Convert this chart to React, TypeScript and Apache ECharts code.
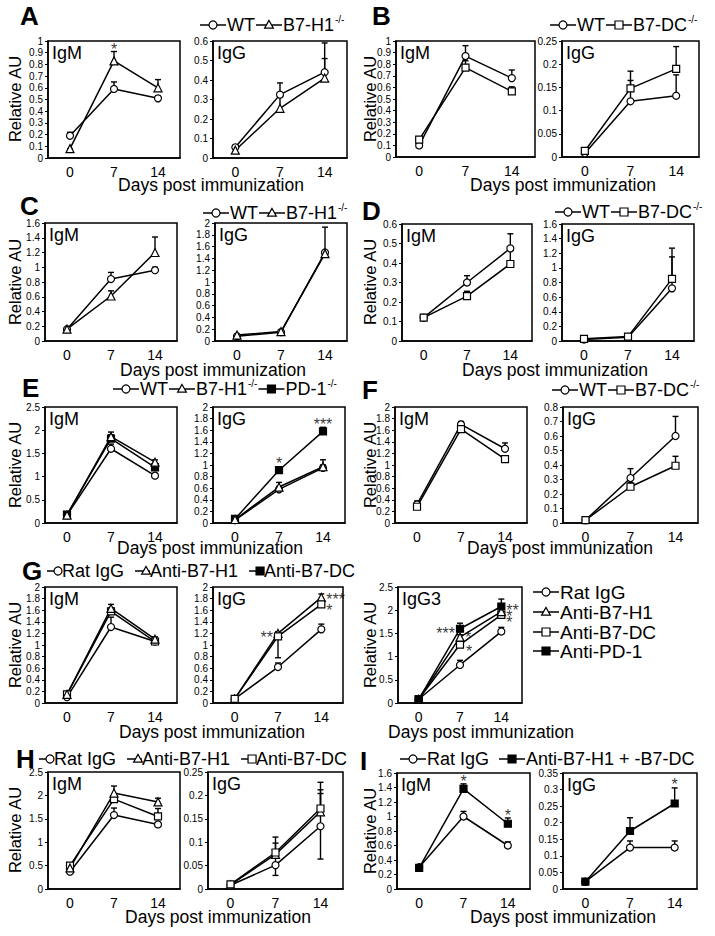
import React, { useEffect, useRef } from 'react';
import * as echarts from 'echarts';

const FONT = '"Liberation Sans", Arial, Helvetica, sans-serif';
const days = ['0', '7', '14'];

// star annotation: [day index, value at block centre, text, x offset, align, line height]
type Star = [number, number, string, number, string?, number?];

// ---- A ----
const aIgmWT = [0.19, 0.59, 0.51];
const aIgmWTErr = [0.03, 0.06, 0.02];
const aIgmKO = [0.08, 0.83, 0.6];
const aIgmKOErr = [0, 0.08, 0.07];
const aIggWT = [0.055, 0.325, 0.44];
const aIggWTErr = [0.01, 0.06, 0.15];
const aIggKO = [0.04, 0.255, 0.41];
const aIggKOErr = [0.01, 0.06, 0.1];
const aIgmStars: Star[] = [[1, 0.97, '*', 0]];
// ---- B ----
const bIgmWT = [0.1, 0.87, 0.68];
const bIgmWTErr = [0.01, 0.09, 0.07];
const bIgmKO = [0.15, 0.77, 0.565];
const bIgmKOErr = [0.01, 0.06, 0.04];
const bIggWT = [0.008, 0.12, 0.132];
const bIggWTErr = [0.003, 0.045, 0.045];
const bIggKO = [0.013, 0.148, 0.19];
const bIggKOErr = [0.003, 0.037, 0.048];
// ---- C ----
const cIgmWT = [0.16, 0.84, 0.96];
const cIgmWTErr = [0.01, 0.09, 0.04];
const cIgmKO = [0.16, 0.61, 1.2];
const cIgmKOErr = [0.01, 0.07, 0.21];
const cIggWT = [0.08, 0.15, 1.5];
const cIggWTErr = [0.01, 0.02, 0.02];
const cIggKO = [0.1, 0.16, 1.48];
const cIggKOErr = [0.01, 0.02, 0.45];
// ---- D ----
const dIgmWT = [0.12, 0.3, 0.475];
const dIgmWTErr = [0.01, 0.035, 0.075];
const dIgmKO = [0.12, 0.23, 0.395];
const dIgmKOErr = [0.01, 0.025, 0.08];
const dIggWT = [0.02, 0.05, 0.72];
const dIggWTErr = [0.01, 0.01, 0.43];
const dIggKO = [0.03, 0.06, 0.85];
const dIggKOErr = [0.01, 0.01, 0.42];
// ---- E ----
const eIgmWT = [0.17, 1.6, 1.02];
const eIgmWTErr = [0.02, 0.1, 0.03];
const eIgmH1 = [0.17, 1.86, 1.31];
const eIgmH1Err = [0.02, 0.1, 0.05];
const eIgmPD1 = [0.18, 1.82, 1.2];
const eIgmPD1Err = [0.02, 0.08, 0.05];
const eIggWT = [0.05, 0.58, 0.95];
const eIggWTErr = [0.01, 0.05, 0.05];
const eIggH1 = [0.06, 0.62, 0.97];
const eIggH1Err = [0.01, 0.08, 0.12];
const eIggPD1 = [0.07, 0.91, 1.58];
const eIggPD1Err = [0.01, 0.06, 0.07];
const eIggStars: Star[] = [[1, 1.1, '*', 0], [2, 1.78, '***', 0]];
// ---- F ----
const fIgmWT = [0.32, 1.7, 1.28];
const fIgmWTErr = [0.06, 0.05, 0.1];
const fIgmKO = [0.28, 1.62, 1.1];
const fIgmKOErr = [0.04, 0.06, 0.05];
const fIggWT = [0.02, 0.31, 0.6];
const fIggWTErr = [0.01, 0.065, 0.135];
const fIggKO = [0.02, 0.25, 0.395];
const fIggKOErr = [0.01, 0.03, 0.065];
// ---- G ----
const gIgmRat = [0.1, 1.31, 1.06];
const gIgmRatErr = [0.02, 0.17, 0.03];
const gIgmH1 = [0.15, 1.63, 1.1];
const gIgmH1Err = [0.02, 0.07, 0.04];
const gIgmDC = [0.15, 1.58, 1.06];
const gIgmDCErr = [0.02, 0.06, 0.03];
const gIggRat = [0.07, 0.62, 1.27];
const gIggRatErr = [0.01, 0.07, 0.09];
const gIggH1 = [0.07, 1.2, 1.82];
const gIggH1Err = [0.01, 0.03, 0.06];
const gIggDC = [0.07, 1.15, 1.7];
const gIggDCErr = [0.01, 0.05, 0.04];
const gIggDCErrLo = [0, 0.37, 0];
const gIggStars: Star[] = [[1, 1.2, '**', -5, 'right'], [2, 1.76, '***\n*', 5, 'left', 11]];
const gIgg3Rat = [0.08, 0.82, 1.54];
const gIgg3RatErr = [0.01, 0.1, 0.09];
const gIgg3H1 = [0.08, 1.42, 1.97];
const gIgg3H1Err = [0.01, 0.05, 0.05];
const gIgg3DC = [0.08, 1.26, 1.9];
const gIgg3DCErr = [0.01, 0.05, 0.05];
const gIgg3PD1 = [0.08, 1.6, 2.08];
const gIgg3PD1Err = [0.01, 0.12, 0.16];
const gIgg3Stars: Star[] = [
  [1, 1.6, '***', -5, 'right'], [1, 1.5, '*', 5, 'left'], [1, 1.2, '*', 6, 'left'],
  [2, 1.97, '**\n*\n*', 5, 'left', 6],
];
// ---- H ----
const hIgmRat = [0.37, 1.58, 1.38];
const hIgmRatErr = [0.02, 0.15, 0.02];
const hIgmH1 = [0.45, 2.05, 1.86];
const hIgmH1Err = [0.02, 0.15, 0.08];
const hIgmDC = [0.5, 1.92, 1.55];
const hIgmDCErr = [0.02, 0.05, 0.17];
const hIggRat = [0.008, 0.051, 0.134];
const hIggRatErr = [0.002, 0.022, 0.07];
const hIggRatErrLo = [0, 0.022, 0.07];
const hIggH1 = [0.009, 0.074, 0.165];
const hIggH1Err = [0.002, 0.037, 0.063];
const hIggDC = [0.01, 0.078, 0.172];
const hIggDCErr = [0.002, 0.02, 0.04];
// ---- I ----
const iIgmRat = [0.3, 1.0, 0.6];
const iIgmRatErr = [0.01, 0.07, 0.05];
const iIgmCombo = [0.29, 1.38, 0.9];
const iIgmComboErr = [0.01, 0.07, 0.08];
const iIggRat = [0.022, 0.125, 0.125];
const iIggRatErr = [0.003, 0.02, 0.02];
const iIggCombo = [0.022, 0.175, 0.258];
const iIggComboErr = [0.003, 0.04, 0.047];
const iIgmStars: Star[] = [[1, 1.55, '*', 0], [2, 1.08, '*', 0]];
const iIggStars: Star[] = [[2, 0.33, '*', 0]];

type Sym = 'o' | 'tri' | 'sq' | 'fsq';
interface S { v: number[]; e: number[]; lo?: number[]; sym: Sym }
interface P {
  box: [number, number, number, number];
  max: number;
  step: number;
  tag: string;
  series: S[];
  stars?: Star[];
}

const panels: P[] = [
  { box: [48, 41, 132, 117], max: 1, step: 0.1, tag: 'IgM', stars: aIgmStars, series: [
    { v: aIgmWT, e: aIgmWTErr, sym: 'o' }, { v: aIgmKO, e: aIgmKOErr, sym: 'tri' }] },
  { box: [213, 41, 134, 117], max: 0.6, step: 0.1, tag: 'IgG', series: [
    { v: aIggWT, e: aIggWTErr, sym: 'o' }, { v: aIggKO, e: aIggKOErr, sym: 'tri' }] },
  { box: [396, 41, 139, 116], max: 1, step: 0.1, tag: 'IgM', series: [
    { v: bIgmWT, e: bIgmWTErr, sym: 'o' }, { v: bIgmKO, e: bIgmKOErr, sym: 'sq' }] },
  { box: [562, 41, 137, 116], max: 0.25, step: 0.05, tag: 'IgG', series: [
    { v: bIggWT, e: bIggWTErr, sym: 'o' }, { v: bIggKO, e: bIggKOErr, sym: 'sq' }] },
  { box: [45, 223, 132, 118], max: 1.6, step: 0.2, tag: 'IgM', series: [
    { v: cIgmWT, e: cIgmWTErr, sym: 'o' }, { v: cIgmKO, e: cIgmKOErr, sym: 'tri' }] },
  { box: [215, 223, 132, 118], max: 2, step: 0.2, tag: 'IgG', series: [
    { v: cIggWT, e: cIggWTErr, sym: 'o' }, { v: cIggKO, e: cIggKOErr, sym: 'tri' }] },
  { box: [402, 224, 130, 117], max: 0.6, step: 0.1, tag: 'IgM', series: [
    { v: dIgmWT, e: dIgmWTErr, sym: 'o' }, { v: dIgmKO, e: dIgmKOErr, sym: 'sq' }] },
  { box: [562, 224, 132, 117], max: 1.6, step: 0.2, tag: 'IgG', series: [
    { v: dIggWT, e: dIggWTErr, sym: 'o' }, { v: dIggKO, e: dIggKOErr, sym: 'sq' }] },
  { box: [45, 407, 132, 116], max: 2.5, step: 0.5, tag: 'IgM', series: [
    { v: eIgmWT, e: eIgmWTErr, sym: 'o' }, { v: eIgmPD1, e: eIgmPD1Err, sym: 'fsq' }, { v: eIgmH1, e: eIgmH1Err, sym: 'tri' }] },
  { box: [213, 407, 132, 116], max: 2, step: 0.2, tag: 'IgG', stars: eIggStars, series: [
    { v: eIggWT, e: eIggWTErr, sym: 'o' }, { v: eIggPD1, e: eIggPD1Err, sym: 'fsq' }, { v: eIggH1, e: eIggH1Err, sym: 'tri' }] },
  { box: [395, 407, 132, 116], max: 2, step: 0.2, tag: 'IgM', series: [
    { v: fIgmWT, e: fIgmWTErr, sym: 'o' }, { v: fIgmKO, e: fIgmKOErr, sym: 'sq' }] },
  { box: [563, 407, 135, 116], max: 0.8, step: 0.1, tag: 'IgG', series: [
    { v: fIggWT, e: fIggWTErr, sym: 'o' }, { v: fIggKO, e: fIggKOErr, sym: 'sq' }] },
  { box: [45, 587, 132, 116], max: 2, step: 0.2, tag: 'IgM', series: [
    { v: gIgmRat, e: gIgmRatErr, sym: 'o' }, { v: gIgmDC, e: gIgmDCErr, sym: 'sq' }, { v: gIgmH1, e: gIgmH1Err, sym: 'tri' }] },
  { box: [213, 587, 130, 116], max: 2, step: 0.2, tag: 'IgG', stars: gIggStars, series: [
    { v: gIggRat, e: gIggRatErr, sym: 'o' }, { v: gIggH1, e: gIggH1Err, sym: 'tri' }, { v: gIggDC, e: gIggDCErr, lo: gIggDCErrLo, sym: 'sq' }] },
  { box: [398, 587, 124, 116], max: 2.5, step: 0.5, tag: 'IgG3', stars: gIgg3Stars, series: [
    { v: gIgg3Rat, e: gIgg3RatErr, sym: 'o' }, { v: gIgg3DC, e: gIgg3DCErr, sym: 'sq' }, { v: gIgg3H1, e: gIgg3H1Err, sym: 'tri' }, { v: gIgg3PD1, e: gIgg3PD1Err, sym: 'fsq' }] },
  { box: [48, 772, 132, 117], max: 2.5, step: 0.5, tag: 'IgM', series: [
    { v: hIgmRat, e: hIgmRatErr, sym: 'o' }, { v: hIgmDC, e: hIgmDCErr, sym: 'sq' }, { v: hIgmH1, e: hIgmH1Err, sym: 'tri' }] },
  { box: [208, 772, 135, 117], max: 0.25, step: 0.05, tag: 'IgG', series: [
    { v: hIggRat, e: hIggRatErr, lo: hIggRatErrLo, sym: 'o' }, { v: hIggH1, e: hIggH1Err, sym: 'tri' }, { v: hIggDC, e: hIggDCErr, sym: 'sq' }] },
  { box: [397, 773, 133, 116], max: 1.6, step: 0.2, tag: 'IgM', stars: iIgmStars, series: [
    { v: iIgmRat, e: iIgmRatErr, sym: 'o' }, { v: iIgmCombo, e: iIgmComboErr, sym: 'fsq' }] },
  { box: [563, 773, 134, 116], max: 0.35, step: 0.05, tag: 'IgG', stars: iIggStars, series: [
    { v: iIggRat, e: iIggRatErr, sym: 'o' }, { v: iIggCombo, e: iIggComboErr, sym: 'fsq' }] },
];

const symMap: Record<Sym, string> = { o: 'circle', tri: 'triangle', sq: 'rect', fsq: 'rect' };

let ctx: CanvasRenderingContext2D | null = null;
function measure(text: string, size: number, weight = 'normal') {
  if (!ctx) ctx = document.createElement('canvas').getContext('2d');
  if (!ctx) return text.length * size * 0.55;
  ctx.font = `${weight} ${size}px "Liberation Sans"`;
  return ctx.measureText(text).width;
}

function txt(text: string, x: number, y: number, size: number, extra: any = {}) {
  return {
    type: 'text', x, y, silent: true, z: 50,
    rotation: extra.rotation || 0,
    style: {
      text, fontSize: size, fontFamily: FONT, fill: '#000',
      fontWeight: extra.weight || 'normal',
      align: extra.align || 'left', verticalAlign: extra.va || 'middle',
    },
  };
}

function marker(sym: Sym, cx: number, cy: number, r: number) {
  const style = { fill: sym === 'fsq' ? '#000' : '#fff', stroke: '#000', lineWidth: 1.2 };
  if (sym === 'o') return { type: 'circle', z: 52, shape: { cx, cy, r }, style };
  if (sym === 'tri') return { type: 'polygon', z: 52, shape: { points: [[cx, cy - r * 1.15], [cx - r * 1.1, cy + r * 0.8], [cx + r * 1.1, cy + r * 0.8]] }, style };
  return { type: 'rect', z: 52, shape: { x: cx - r, y: cy - r, width: 2 * r, height: 2 * r }, style };
}

interface LItem { sym: Sym; text: string; sup?: string }
function legendRow(x: number, y: number, items: LItem[], o: { font: number; lineL: number; lineR: number; r: number; gapText: number; gapItem: number }) {
  const els: any[] = [];
  let cx = x;
  for (const it of items) {
    const mx = cx + o.lineL + o.r;
    const end = mx + o.r + o.lineR;
    els.push({ type: 'line', z: 51, shape: { x1: cx, y1: y, x2: end, y2: y }, style: { stroke: '#000', lineWidth: 1.5 } });
    els.push(marker(it.sym, mx, y, o.r));
    let tx = end + o.gapText;
    els.push(txt(it.text, tx, y, o.font));
    tx += measure(it.text, o.font);
    if (it.sup) {
      const sf = Math.round(o.font * 0.58);
      els.push(txt(it.sup, tx + 1, y - o.font * 0.32, sf));
      tx += measure(it.sup, sf) + 1;
    }
    cx = tx + o.gapItem;
  }
  return els;
}

function buildOption() {
  const grid: any[] = [];
  const xAxis: any[] = [];
  const yAxis: any[] = [];
  const series: any[] = [];
  const elements: any[] = [];

  panels.forEach((p, i) => {
    const [l, t, w, h] = p.box;
    grid.push({ left: l, top: t, width: w, height: h, show: true, borderColor: '#000', borderWidth: 1.5, backgroundColor: 'transparent' });
    xAxis.push({
      type: 'category', gridIndex: i, data: days, boundaryGap: true,
      axisLine: { show: true, lineStyle: { color: '#000', width: 1.5 } },
      axisTick: { show: false },
      axisLabel: { fontSize: 14, color: '#000', margin: 7, fontFamily: FONT },
      splitLine: { show: false },
    });
    yAxis.push({
      type: 'value', gridIndex: i, min: 0, max: p.max, interval: p.step,
      axisLine: { show: true, lineStyle: { color: '#000', width: 1.5 } },
      axisTick: { show: true, length: 3, lineStyle: { color: '#000', width: 1 } },
      axisLabel: { fontSize: 10, lineHeight: 10, color: '#000', margin: 5, fontFamily: FONT },
      splitLine: { show: false },
    });
    p.series.forEach((s) => {
      series.push({
        type: 'custom', xAxisIndex: i, yAxisIndex: i, z: 2, silent: true,
        data: s.v.map((v, k) => [k, v, v + s.e[k], s.lo ? v - s.lo[k] : v]),
        encode: { x: 0, y: [1, 2, 3] },
        renderItem: (params: any, api: any) => {
          const top = api.coord([api.value(0), api.value(2)]);
          const bot = api.coord([api.value(0), api.value(3)]);
          const cap = 3;
          const st = { stroke: '#000', lineWidth: 1.4 };
          const ch: any[] = [
            { type: 'line', shape: { x1: top[0], y1: top[1], x2: bot[0], y2: bot[1] }, style: st },
            { type: 'line', shape: { x1: top[0] - cap, y1: top[1], x2: top[0] + cap, y2: top[1] }, style: st },
          ];
          if (api.value(3) < api.value(1)) {
            ch.push({ type: 'line', shape: { x1: bot[0] - cap, y1: bot[1], x2: bot[0] + cap, y2: bot[1] }, style: st });
          }
          return { type: 'group', children: ch };
        },
      });
    });
    p.series.forEach((s) => {
      series.push({
        type: 'line', xAxisIndex: i, yAxisIndex: i, z: 3, silent: true,
        data: s.v,
        symbol: symMap[s.sym],
        symbolSize: s.sym === 'tri' ? 8 : 7,
        showAllSymbol: true,
        itemStyle: { color: s.sym === 'fsq' ? '#000' : '#fff', borderColor: '#000', borderWidth: 1.2 },
        lineStyle: { color: '#000', width: 1.5 },
      });
    });
    if (p.stars) {
      series.push({
        type: 'scatter', xAxisIndex: i, yAxisIndex: i, z: 4, silent: true,
        symbolSize: 1, itemStyle: { color: 'rgba(0,0,0,0)' },
        data: p.stars.map(([k, y, s, dx, align, lh]) => ({
          value: [k, y],
          label: {
            show: true, formatter: s, position: 'inside', offset: [dx, 4.5],
            align: align || 'center', verticalAlign: 'middle',
            fontSize: 16, lineHeight: lh || 12, color: '#000', fontFamily: FONT,
          },
        })),
      });
    }
    elements.push(txt(p.tag, l + 4, t + 3, 18, { va: 'top' }));
  });

  // panel letters
  const letters: [string, number, number][] = [
    ['A', 20, 3], ['B', 372, 3], ['C', 20, 193], ['D', 362, 198], ['E', 22, 375],
    ['F', 362, 377], ['G', 22, 558], ['H', 16, 746], ['I', 360, 748],
  ];
  letters.forEach(([s, x, y]) => elements.push(txt(s, x, y, 26, { weight: 'bold', va: 'top' })));

  // x titles
  const titles: [number, number][] = [[211, 185], [563, 185], [213, 370], [555, 370], [210, 548], [560, 548], [212, 732], [481, 732], [218, 917], [563, 917]];
  titles.forEach(([x, y]) => elements.push(txt('Days post immunization', x, y, 17.5, { align: 'center' })));

  // y titles
  const ytitles: [number, number][] = [[15, 99], [370, 99], [15, 282], [370, 282], [15, 465], [370, 465], [15, 645], [370, 645], [15, 830], [370, 831]];
  ytitles.forEach(([x, y]) => elements.push(txt('Relative AU', x, y, 16.5, { align: 'center', rotation: Math.PI / 2 })));

  // legends
  const std = { font: 18, lineL: 9, lineR: 9, r: 4, gapText: 1, gapItem: 1 };
  elements.push(...legendRow(200, 25, [{ sym: 'o', text: 'WT' }, { sym: 'tri', text: 'B7-H1', sup: '-/-' }], std));
  elements.push(...legendRow(550, 25, [{ sym: 'o', text: 'WT' }, { sym: 'sq', text: 'B7-DC', sup: '-/-' }], std));
  elements.push(...legendRow(203, 213, [{ sym: 'o', text: 'WT' }, { sym: 'tri', text: 'B7-H1', sup: '-/-' }], std));
  elements.push(...legendRow(555, 212, [{ sym: 'o', text: 'WT' }, { sym: 'sq', text: 'B7-DC', sup: '-/-' }], std));
  elements.push(...legendRow(113, 389, [{ sym: 'o', text: 'WT' }, { sym: 'tri', text: 'B7-H1', sup: '-/-' }, { sym: 'fsq', text: 'PD-1', sup: '-/-' }], std));
  elements.push(...legendRow(552, 390, [{ sym: 'o', text: 'WT' }, { sym: 'sq', text: 'B7-DC', sup: '-/-' }], std));
  const shortL = { font: 18, lineL: 7, lineR: 0, r: 4, gapText: 0, gapItem: 11 };
  elements.push(...legendRow(47, 571, [{ sym: 'o', text: 'Rat IgG' }, { sym: 'tri', text: 'Anti-B7-H1' }, { sym: 'fsq', text: 'Anti-B7-DC' }], shortL));
  elements.push(...legendRow(39, 759, [{ sym: 'o', text: 'Rat IgG' }, { sym: 'tri', text: 'Anti-B7-H1' }, { sym: 'sq', text: 'Anti-B7-DC' }], shortL));
  elements.push(...legendRow(400, 759, [{ sym: 'o', text: 'Rat IgG' }, { sym: 'fsq', text: 'Anti-B7-H1 + -B7-DC' }], { font: 18, lineL: 9, lineR: 9, r: 4, gapText: 1, gapItem: 10 }));
  const vert: [Sym, string, number][] = [['o', 'Rat IgG', 592], ['tri', 'Anti-B7-H1', 612], ['sq', 'Anti-B7-DC', 632], ['fsq', 'Anti-PD-1', 651]];
  vert.forEach(([s, t, y]) => elements.push(...legendRow(533, y, [{ sym: s, text: t }], { font: 19, lineL: 9, lineR: 9, r: 4, gapText: 1, gapItem: 0 })));

  return {
    animation: false,
    backgroundColor: '#fff',
    textStyle: { fontFamily: FONT },
    grid, xAxis, yAxis, series,
    graphic: { elements },
  };
}

export default function App() {
  const ref = useRef<HTMLDivElement>(null);
  useEffect(() => {
    if (!ref.current) return;
    const chart = echarts.init(ref.current, undefined, { renderer: 'svg' });
    chart.setOption(buildOption() as any);
    return () => chart.dispose();
  }, []);
  return <div ref={ref} style={{ position: 'absolute', left: 0, top: 0, width: 715, height: 936, background: '#fff' }} />;
}
